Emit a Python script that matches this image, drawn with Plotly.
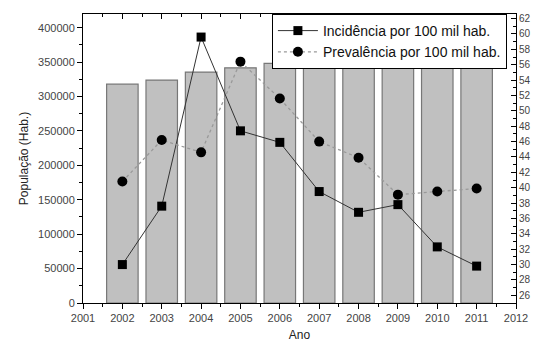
import plotly.graph_objects as go

anos = [2002, 2003, 2004, 2005, 2006, 2007, 2008, 2009, 2010, 2011]
populacao = [318000, 324000, 335600, 341800, 348200, 351600, 357800, 362800, 361300, 366100]
incidencia = [30.0, 37.6, 59.6, 47.4, 45.9, 39.5, 36.8, 37.8, 32.3, 29.8]
prevalencia = [40.8, 46.2, 44.6, 56.4, 51.6, 46.0, 43.9, 39.1, 39.5, 39.9]

FONT = "Liberation Sans, Arial, sans-serif"
TICKC = "#444444"

fig = go.Figure()
fig.add_trace(go.Bar(
    x=anos, y=populacao, width=0.8,
    marker=dict(color="#c0c0c0", line=dict(color="#777777", width=1.2)),
    showlegend=False, yaxis="y"))
fig.add_trace(go.Scatter(
    x=anos, y=incidencia, yaxis="y2", mode="lines+markers",
    name="Incidência por 100 mil hab.",
    line=dict(color="#333333", width=1),
    marker=dict(symbol="square", size=9, color="black")))
fig.add_trace(go.Scatter(
    x=anos, y=prevalencia, yaxis="y2", mode="lines+markers",
    name="Prevalência por 100 mil hab.",
    line=dict(color="#999999", width=1.3, dash="dot"),
    marker=dict(symbol="circle", size=10, color="black")))
# invisible trace to draw the top axis
fig.add_trace(go.Scatter(x=[2001, 2012], y=[None, None], xaxis="x2", yaxis="y",
                         showlegend=False, hoverinfo="skip", mode="markers"))

fig.update_layout(
    template="none",
    width=536, height=342,
    margin=dict(l=83, r=20, t=14, b=39, autoexpand=False),
    paper_bgcolor="white", plot_bgcolor="white",
    font=dict(family=FONT, size=11, color=TICKC),
    bargap=0.2,
    xaxis=dict(range=[2001, 2012], dtick=1, tick0=2001, ticks="outside", ticklen=5,
               tickcolor="black", showline=True, linecolor="black", linewidth=1,
               showgrid=False, zeroline=False,
               minor=dict(dtick=0.5, ticks="outside", ticklen=3, tickcolor="black"),
               title=dict(text="Ano", font=dict(size=12, color="#222222"), standoff=13),
               tickfont=dict(size=11, color=TICKC)),
    xaxis2=dict(range=[2001, 2012], overlaying="x", side="top", dtick=1, tick0=2001,
                ticks="inside", ticklen=5, tickcolor="black", showline=True,
                linecolor="black", linewidth=1, showticklabels=False, showgrid=False,
                zeroline=False,
                minor=dict(dtick=0.5, ticks="inside", ticklen=3, tickcolor="black")),
    yaxis=dict(range=[0, 420000], dtick=50000, ticks="outside", ticklen=5,
               tickcolor="black", showline=True, linecolor="black", linewidth=1,
               showgrid=False, zeroline=False, tickformat="d",
               minor=dict(dtick=25000, ticks="outside", ticklen=3, tickcolor="black"),
               title=dict(text="População (Hab.)", font=dict(size=12, color="#222222"), standoff=6),
               tickfont=dict(size=11, color=TICKC)),
    yaxis2=dict(range=[25, 62.6], overlaying="y", side="right", dtick=2, tick0=26,
                ticks="inside", ticklen=5, tickcolor="black", showline=True,
                linecolor="black", linewidth=1, showgrid=False, zeroline=False,
                minor=dict(dtick=1, ticks="inside", ticklen=3, tickcolor="black"),
                tickfont=dict(size=10, color=TICKC)),
    legend=dict(x=0.979, xanchor="right", y=1, yanchor="top",
                bgcolor="white", bordercolor="black", borderwidth=1,
                font=dict(size=14, color="#111111"), itemwidth=40,
                tracegroupgap=0),
)
# separator between the two legend rows (reference draws each entry boxed)
fig.add_shape(type="line", xref="paper", yref="paper", x0=0.437, x1=0.979,
              y0=0.907, y1=0.907, line=dict(color="black", width=1), layer="above")
fig.write_html("out.html", config={"displayModeBar": False},
               post_script="document.body.style.margin='0';document.body.style.overflow='hidden';")
